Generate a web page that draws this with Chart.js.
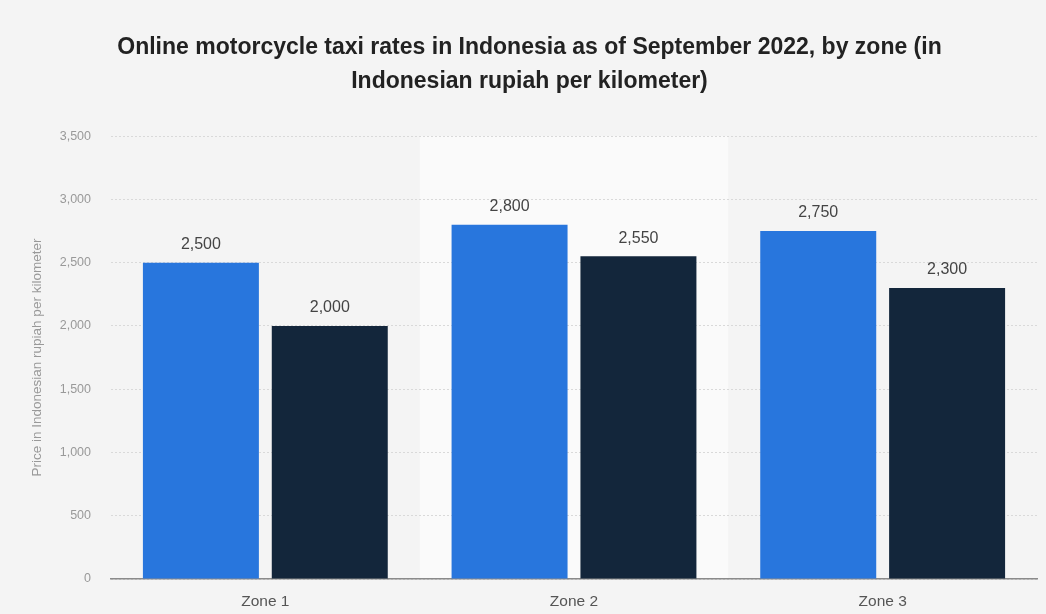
<!DOCTYPE html>
<html>
<head>
<meta charset="utf-8">
<script src="https://cdn.jsdelivr.net/npm/chart.js@4"></script>
<style>
  html, body { margin: 0; padding: 0; background: #f4f4f4; }
  #wrap { width: 1046px; height: 614px; }
</style>
</head>
<body>
<div id="wrap"><canvas id="taxiRates"></canvas></div>
<script>
var zones = ["Zone 1", "Zone 2", "Zone 3"];
var seriesA = [2500, 2800, 2750];
var seriesB = [2000, 2550, 2300];
var yTicks = [0, 500, 1000, 1500, 2000, 2500, 3000, 3500];

var FONT = '"Liberation Sans", Arial, sans-serif';

function fmt(v) {
    return Number(v).toLocaleString('en-US');
}

// page background and the lighter band behind zone 2
var backdrop = {
    id: 'backdrop',
    beforeDraw: function (chart) {
        var ctx = chart.ctx;
        var area = chart.chartArea;
        var x = chart.scales.x;
        ctx.save();
        ctx.fillStyle = '#f4f4f4';
        ctx.fillRect(0, 0, chart.width, chart.height);
        var half = (x.getPixelForValue(1) - x.getPixelForValue(0)) / 2;
        var cx = x.getPixelForValue(1);
        ctx.fillStyle = '#fafafa';
        ctx.fillRect(cx - half, area.top, half * 2, area.bottom - area.top);
        ctx.restore();
    }
};

// value labels above each bar
var barLabels = {
    id: 'barLabels',
    afterDatasetsDraw: function (chart) {
        var ctx = chart.ctx;
        ctx.save();
        ctx.font = '16px ' + FONT;
        ctx.fillStyle = '#444444';
        ctx.textAlign = 'center';
        ctx.textBaseline = 'bottom';
        chart.data.datasets.forEach(function (ds, i) {
            chart.getDatasetMeta(i).data.forEach(function (bar, j) {
                ctx.fillText(fmt(ds.data[j]), bar.x, bar.y - 10);
            });
        });
        ctx.restore();
    }
};

var ctx = document.getElementById('taxiRates').getContext('2d');
var chart = new Chart(ctx, {
    type: 'bar',
    data: {
        labels: zones,
        datasets: [
            {
                label: "Rate A",
                data: seriesA,
                backgroundColor: "#2876dd"
            },
            {
                label: "Rate B",
                data: seriesB,
                backgroundColor: "#13263b"
            }
        ]
    },
    plugins: [backdrop, barLabels],
    options: {
        responsive: true,
        maintainAspectRatio: false,
        animation: false,
        categoryPercentage: 0.835,
        barPercentage: 0.9,
        layout: {
            padding: { left: 22, right: 9, top: 0, bottom: 0 }
        },
        plugins: {
            legend: { display: false },
            tooltip: { enabled: false },
            title: {
                display: true,
                text: [
                    "Online motorcycle taxi rates in Indonesia as of September 2022, by zone (in",
                    "Indonesian rupiah per kilometer)"
                ],
                color: '#222222',
                font: { family: FONT, size: 23, weight: 'bold', lineHeight: 1.48 },
                padding: { top: 31, bottom: 37 }
            }
        },
        scales: {
            x: {
                grid: { display: false, drawTicks: false },
                border: { display: true, color: '#8a8a8a', width: 1.5 },
                ticks: {
                    color: '#555555',
                    padding: 13,
                    font: { family: FONT, size: 15.5 }
                },
                afterFit: function (s) { s.height = 35; }
            },
            y: {
                min: 0,
                max: 3500,
                afterBuildTicks: function (axis) {
                    axis.ticks = yTicks.map(function (v) { return { value: v }; });
                },
                afterFit: function (s) { s.width = 89; },
                border: { display: false, dash: [2, 2] },
                grid: { color: '#d9d9d9', drawTicks: false },
                ticks: {
                    color: '#999999',
                    padding: 20,
                    font: { family: FONT, size: 12.5 },
                    callback: function (v) { return fmt(v); }
                },
                title: {
                    display: true,
                    text: "Price in Indonesian rupiah per kilometer",
                    color: '#999999',
                    font: { family: FONT, size: 13.5 },
                    padding: 7
                }
            }
        }
    }
});
</script>
</body>
</html>
